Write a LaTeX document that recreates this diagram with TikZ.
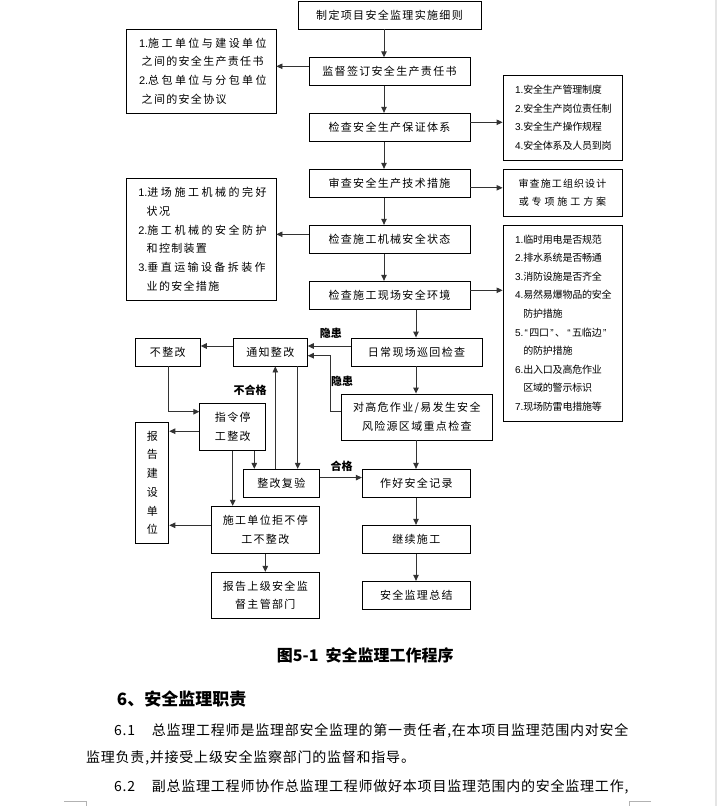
\documentclass[tikz,border=0pt]{standalone}
\usepackage{fontspec}
\setmainfont{Noto Sans CJK SC}
\newfontfamily\boxfont[LetterSpace=12]{Noto Sans CJK SC}
\newfontfamily\sidefont[LetterSpace=11]{Noto Sans CJK SC}
\newfontfamily\sidetight[LetterSpace=-2]{Noto Sans CJK SC}
\newfontfamily\bodyfont[LetterSpace=5.5]{Noto Sans CJK SC}
\newfontfamily\lat{Liberation Sans}
\usetikzlibrary{arrows.meta}
\makeatletter
\newcommand\sprd[1]{\sprd@#1\@nil}
\def\sprd@#1#2\@nil{#1\ifx\relax#2\relax\else\hfil\sprd@#2\@nil\fi}
\makeatother
\newcommand\num[1]{{\lat #1.}}
\newcommand\oq{\makebox[6pt][c]{\lat “}}
\newcommand\cq{\makebox[6pt][c]{\lat ”}}
\newcommand\rl[1]{\makebox[95pt][l]{#1}}
\begin{document}
\begin{tikzpicture}[x=1pt,y=-1pt,
  bx/.style={draw=black, line width=0.9pt, inner sep=0pt, align=center,
    font=\boxfont\fontsize{11}{18.7}\selectfont},
  sbx/.style={draw=black, line width=0.9pt, inner sep=0pt, align=center,
    font=\sidetight\fontsize{10}{18.6}\selectfont},
  wh/.style 2 args={minimum width=#1, minimum height=#2},
  arr/.style={draw=black!80, line width=0.9pt, -{Triangle[length=6pt,width=5.5pt]}},
  lbl/.style={inner sep=0pt, font=\fontsize{11}{11}\selectfont\bfseries},
  txt/.style={inner sep=0pt, anchor=west}]
\fill[white] (0,0) rectangle (717,806);
\useasboundingbox (0,0) rectangle (717,806);
\fill[black!10] (715,0) rectangle (717,806);
\draw[black!30, line width=0.8pt] (64,801.5) -- (86,801.5) -- (86,806);
\draw[black!30, line width=0.8pt] (651,801.5) -- (629.3,801.5) -- (629.3,806);

% central column
\node[bx, wh={183}{28}] (n1) at (389.5,15) {制定项目安全监理实施细则};
\node[bx, wh={161}{27.5}] (n2) at (389.5,71.5) {监督签订安全生产责任书};
\node[bx, wh={161}{28}] (n3) at (389.5,127.3) {检查安全生产保证体系};
\node[bx, wh={161}{28}] (n4) at (389.5,183.3) {审查安全生产技术措施};
\node[bx, wh={161}{28}] (n5) at (389.5,239.3) {检查施工机械安全状态};
\node[bx, wh={161}{28}] (n6) at (389.5,295.3) {检查施工现场安全环境};

% left boxes
\node[bx, wh={150}{84}, align=left, text width=124pt] (L1) at (201,71) {%
\num{1}\makebox[118.5pt][s]{\sprd{施工单位与建设单位}}\\
\hspace*{2.7pt}之间的安全生产责任书\\
\num{2}\makebox[118.5pt][s]{\sprd{总包单位与分包单位}}\\
\hspace*{2.7pt}之间的安全协议};
\node[bx, wh={150}{122}, align=left, text width=125.4pt] (L2) at (201,239.3) {%
\num{1}\makebox[119.2pt][s]{\sprd{进场施工机械的完好}}\\
\hspace*{8.4pt}状况\\
\num{2}\makebox[119.2pt][s]{\sprd{施工机械的安全防护}}\\
\hspace*{8.4pt}和控制装置\\
\num{3}\makebox[118.2pt][s]{\sprd{垂直运输设备拆装作}}\\
\hspace*{8.4pt}业的安全措施};

% right boxes
\node[sbx, wh={119}{85}] (R1) at (562.5,117.7) {%
\rl{\num{1}安全生产管理制度}\\
\rl{\num{2}安全生产岗位责任制}\\
\rl{\num{3}安全生产操作规程}\\
\rl{\num{4}安全体系及人员到岗}};
\node[sbx, wh={119}{47}, font=\sidefont\fontsize{10}{18.6}\selectfont] (R2) at (562.5,192.7) {%
审查施工组织设计\\
\makebox[87.5pt][s]{\sprd{或专项施工方案}}};
\node[sbx, wh={119}{196}] (R3) at (562.5,323) {%
\rl{\num{1}临时用电是否规范}\\
\rl{\num{2}排水系统是否畅通}\\
\rl{\num{3}消防设施是否齐全}\\
\rl{\num{4}易然易爆物品的安全}\\
\rl{\hspace*{8.3pt}防护措施}\\
\rl{\num{5}\oq 四口\cq 、\hspace{1pt}\oq 五临边\cq}\\
\rl{\hspace*{8.3pt}的防护措施}\\
\rl{\num{6}出入口及高危作业}\\
\rl{\hspace*{8.3pt}区域的警示标识}\\
\rl{\num{7}现场防雷电措施等}};

% lower part
\node[bx, wh={131}{28}] (n7) at (416.5,352) {日常现场巡回检查};
\node[bx, wh={74}{28}] (n8) at (270.3,352) {通知整改};
\node[bx, wh={65}{28}] (n9) at (167.8,352) {不整改};
\node[bx, wh={151}{46}] (n10) at (416.8,417) {对高危作业/易发生安全\\风险源区域重点检查};
\node[bx, wh={66}{47}] (n11) at (232.8,426.7) {指令停\\工整改};
\node[bx, wh={33}{121}] (n12) at (152.3,482.8) {报\\告\\建\\设\\单\\位};
\node[bx, wh={76}{28}] (n13) at (281.3,483.3) {整改复验};
\node[bx, wh={108}{28}] (n14) at (416.3,483.3) {作好安全记录};
\node[bx, wh={108}{47}] (n15) at (265.3,529.8) {施工单位拒不停\\工不整改};
\node[bx, wh={108}{46}] (n16) at (265.3,595.3) {报告上级安全监\\督主管部门};
\node[bx, wh={108}{28}] (n17) at (416.3,539.3) {继续施工};
\node[bx, wh={108}{28}] (n18) at (416.3,595.3) {安全监理总结};

% labels
\node[lbl] (t1) at (330.8,333.5) {隐患};
\node[lbl] (t2) at (342,381) {隐患};
\node[lbl] (t3) at (250,390.5) {不合格};
\node[lbl] (t4) at (341.7,466) {合格};

% helper coordinates
\coordinate (c1) at (384,0);
\coordinate (c2) at (416,0);
\coordinate (k1) at (330,355.7);
\coordinate (k2) at (168.7,411.7);
\coordinate (k3) at (254.3,0);
\coordinate (k4) at (232.7,0);
\coordinate (k5) at (275.3,0);
\coordinate (k6) at (297.7,0);
\coordinate (a2) at ([yshift=5.2pt]n2.west);
\coordinate (a3) at ([yshift=5pt]n3.east);
\coordinate (a4) at ([yshift=-4.5pt]n4.east);
\coordinate (a5) at ([yshift=5pt]n5.west);
\coordinate (a6) at ([yshift=5pt]n6.east);
\coordinate (a7) at ([yshift=6pt]n7.west);
\coordinate (a8) at ([yshift=6pt]n8.west);
\coordinate (a10) at ([yshift=5.3pt]n10.west);
\coordinate (a11) at ([yshift=-4.5pt]n11.west);
\coordinate (a13) at ([yshift=5.7pt]n13.east);
\coordinate (a15) at ([yshift=4.5pt]n15.west);

% connectors
\draw[arr] (n1.south -| c1) -- (n2.north -| c1);
\draw[arr] (n2.south -| c1) -- (n3.north -| c1);
\draw[arr] (n3.south -| c1) -- (n4.north -| c1);
\draw[arr] (n4.south -| c1) -- (n5.north -| c1);
\draw[arr] (n5.south -| c1) -- (n6.north -| c1);
\draw[arr] (a2) -- (a2 -| L1.east);
\draw[arr] (a3) -- (a3 -| R1.west);
\draw[arr] (a4) -- (a4 -| R2.west);
\draw[arr] (a5) -- (a5 -| L2.east);
\draw[arr] (a6) -- (a6 -| R3.west);
\draw[arr] (n6.south -| c2) -- (n7.north -| c2);
\draw[arr] (n7.south -| c2) -- (n10.north -| c2);
\draw[arr] (n10.south -| c2) -- (n14.north -| c2);
\draw[arr] (n14.south -| c2) -- (n17.north -| c2);
\draw[arr] (n17.south -| c2) -- (n18.north -| c2);
\draw[arr] (a7) -- (a7 -| n8.east);
\draw[arr] (a10) -| (k1) -- (k1 -| n8.east);
\draw[arr] (a8) -- (a8 -| n9.east);
\draw[arr] (n9.south -| k2) |- (n11.west |- k2);
\draw[arr] (a11) -- (a11 -| n12.east);
\draw[arr] (n11.south -| k3) -- (n13.north -| k3);
\draw[arr] (n11.south -| k4) -- (n15.north -| k4);
\draw[arr] (n13.north -| k5) -- (n8.south -| k5);
\draw[arr] (n8.south -| k6) -- (n13.north -| k6);
\draw[arr] (a13) -- (a13 -| n14.west);
\draw[arr] (a15) -- (a15 -| n12.east);
\draw[arr] (n15) -- (n16);

% caption and body text
\node[txt, font=\fontsize{16}{16}\selectfont\bfseries] (cap) at (276.7,655) {图5-1\hspace{7pt}安全监理工作程序};
\node[txt, font=\fontsize{17}{17}\selectfont\bfseries] (h6) at (116.7,699.3) {6、安全监理职责};
\node[txt, font=\bodyfont\fontsize{14}{14}\selectfont] (p1) at (114,731) {\makebox[37.7pt][l]{6.1}总监理工程师是监理部安全监理的第一责任者,在本项目监理范围内对安全};
\node[txt, font=\bodyfont\fontsize{14}{14}\selectfont] (p2) at (86,757.5) {监理负责,并接受上级安全监察部门的监督和指导。};
\node[txt, font=\bodyfont\fontsize{14}{14}\selectfont] (p3) at (114,786.7) {\makebox[37.7pt][l]{6.2}副总监理工程师协作总监理工程师做好本项目监理范围内的安全监理工作,};
\end{tikzpicture}
\end{document}
